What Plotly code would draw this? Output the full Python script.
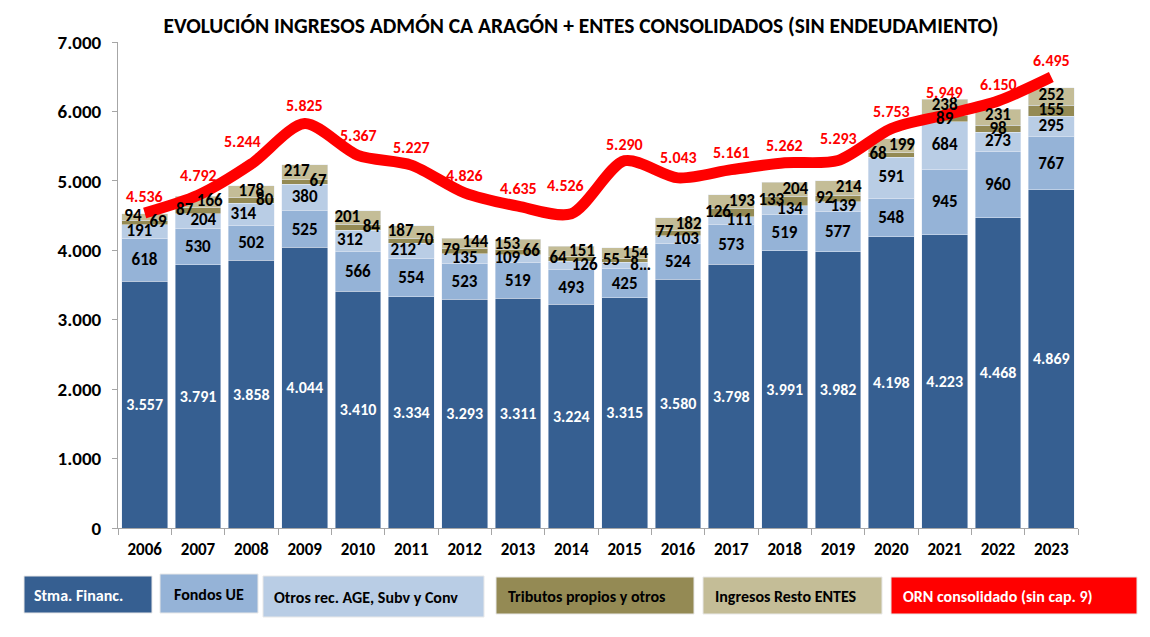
import plotly.graph_objects as go

# ---------------- data ----------------
years = [2006, 2007, 2008, 2009, 2010, 2011, 2012, 2013, 2014,
         2015, 2016, 2017, 2018, 2019, 2020, 2021, 2022, 2023]
stma_financ = [3557, 3791, 3858, 4044, 3410, 3334, 3293, 3311, 3224,
               3315, 3580, 3798, 3991, 3982, 4198, 4223, 4468, 4869]
fondos_ue = [618, 530, 502, 525, 566, 554, 523, 519, 493,
             425, 524, 573, 519, 577, 548, 945, 960, 767]
otros_age = [191, 204, 314, 380, 312, 212, 135, 109, 126,
             85, 103, 111, 134, 139, 591, 684, 273, 295]
otros_labels = ["191", "204", "314", "380", "312", "212", "135", "109", "126",
                "8…", "103", "111", "134", "139", "591", "684", "273", "295"]
tributos = [69, 87, 80, 67, 84, 70, 79, 66, 64,
            55, 77, 126, 133, 92, 68, 89, 98, 155]
resto_entes = [94, 166, 178, 217, 201, 187, 144, 153, 151,
               154, 182, 193, 204, 214, 199, 238, 231, 252]
orn = [4536, 4792, 5244, 5825, 5367, 5227, 4826, 4635, 4526,
       5290, 5043, 5161, 5262, 5293, 5753, 5949, 6150, 6495]

series_names = ["Stma. Financ.", "Fondos UE", "Otros rec. AGE, Subv y Conv",
                "Tributos propios y otros", "Ingresos Resto ENTES",
                "ORN consolidado (sin cap. 9)"]

# ---------------- style ----------------
C_STMA = "#365F91"
C_FOND = "#95B3D7"
C_OTR = "#B9CDE5"
C_TRIB = "#948A54"
C_RESTO = "#C4BD97"
C_RED = "#FF0000"
FONT = "Carlito, 'Liberation Sans Narrow', 'Liberation Sans', sans-serif"

# label placement tweaks (style only)
otros_dx = [-0.1, 0.1, -0.15, 0, -0.15, -0.15, 0, -0.2, 0.25,
            0.3, 0.15, 0.15, 0.1, 0.1, 0, 0, 0, 0]
trib_dx = [0.25, -0.25, 0.25, 0.25, 0.25, 0.25, -0.25, 0.25, -0.25,
           -0.25, -0.25, -0.25, -0.25, -0.25, -0.25, 0, 0, 0]
resto_dx = [-0.22, 0.22, 0, -0.15, -0.2, -0.2, 0.2, -0.2, 0.2,
            0.2, 0.2, 0.2, 0.2, 0.2, 0.2, 0, 0, 0]
resto_dy = [0, 0, 0, 0, 0, 0, 0, 0, 0,
            0, 0, 0, 0, 0, 0, 25, 20, 10]
trib_dy = [0, 0, 0, 0, 0, 0, 0, 0, 0,
           0, 0, 0, 0, 0, 0, -20, -15, 0]
orn_yshift = [17, 20, 22, 18, 20, 18, 17, 18, 28,
              16, 20, 17, 17, 22, 17, 22, 17, 17]
orn_xshift = [0, 0, -9, 0, 0, 0, 0, 0, -6,
              0, 0, 0, 0, 0, 0, 0, 0, 0]


def fmt(v):
    return f"{v:,}".replace(",", ".")


fig = go.Figure()

bar_w = 0.86
fig.add_trace(go.Bar(x=years, y=stma_financ, name=series_names[0], marker_color=C_STMA,
                     width=bar_w, text=[fmt(v) for v in stma_financ],
                     textposition="inside", insidetextanchor="middle", constraintext="none",
                     textangle=0, textfont=dict(color="white", size=16, family=FONT)))
fig.add_trace(go.Bar(x=years, y=fondos_ue, name=series_names[1], marker_color=C_FOND,
                     width=bar_w, text=[fmt(v) for v in fondos_ue],
                     textposition="inside", insidetextanchor="middle", constraintext="none",
                     textangle=0, textfont=dict(color="black", size=17, family=FONT)))
fig.add_trace(go.Bar(x=years, y=otros_age, name=series_names[2], marker_color=C_OTR,
                     width=bar_w))
fig.add_trace(go.Bar(x=years, y=tributos, name=series_names[3], marker_color=C_TRIB,
                     width=bar_w))
fig.add_trace(go.Bar(x=years, y=resto_entes, name=series_names[4], marker_color=C_RESTO,
                     width=bar_w))

fig.add_trace(go.Scatter(x=years, y=orn, name=series_names[5], mode="lines",
                         line=dict(color=C_RED, width=11, shape="spline", smoothing=0.8)))

# labels for thin segments
base_otros = [a + b for a, b in zip(stma_financ, fondos_ue)]
base_trib = [a + b for a, b in zip(base_otros, otros_age)]
base_resto = [a + b for a, b in zip(base_trib, tributos)]

lab_font = dict(color="black", size=17, family=FONT)
fig.add_trace(go.Scatter(x=[y + d for y, d in zip(years, otros_dx)],
                         y=[b + v / 2 for b, v in zip(base_otros, otros_age)],
                         mode="text", text=otros_labels, textfont=lab_font,
                         showlegend=False, hoverinfo="skip"))
fig.add_trace(go.Scatter(x=[y + d for y, d in zip(years, trib_dx)],
                         y=[b + v / 2 + d for b, v, d in zip(base_trib, tributos, trib_dy)],
                         mode="text", text=[str(v) for v in tributos], textfont=lab_font,
                         showlegend=False, hoverinfo="skip"))
fig.add_trace(go.Scatter(x=[y + d for y, d in zip(years, resto_dx)],
                         y=[b + v / 2 + d for b, v, d in zip(base_resto, resto_entes, resto_dy)],
                         mode="text", text=[str(v) for v in resto_entes], textfont=lab_font,
                         showlegend=False, hoverinfo="skip"))

annotations = []
for yr, v, ys, xs in zip(years, orn, orn_yshift, orn_xshift):
    annotations.append(dict(x=yr, y=v, xref="x", yref="y", text=f"<b>{fmt(v)}</b>",
                            showarrow=False, yshift=ys, xshift=xs,
                            font=dict(color=C_RED, size=16, family=FONT)))

# ---------------- page geometry (page has an 8px body margin) ----------------
OFF = 8
W, H = 1150 - OFF, 637 - OFF
PL, PR, PT, PB = 118, 1078, 42, 528   # plot area in page pixels
ML, MR, MT, MB = PL - OFF, (OFF + W) - PR, PT - OFF, (OFF + H) - PB
PW, PH = PR - PL, PB - PT


def px_x(p):
    return (p - PL) / PW


def px_y(p):
    return (PB - p) / PH


legend_boxes = [
    (24, 152, 576, 613, 8, C_STMA, "white"),
    (160, 258, 574, 613, 12, C_FOND, "black"),
    (263, 484, 576, 617, 9, C_OTR, "black"),
    (496, 694, 577, 614, 10, C_TRIB, "black"),
    (703, 882, 577, 614, 10, C_RESTO, "black"),
    (891, 1137, 577, 614, 10, C_RED, "white"),
]
shapes = []
for (x0, x1, y0, y1, pad, col, tcol), name in zip(legend_boxes, series_names):
    shapes.append(dict(type="rect", xref="paper", yref="paper",
                       x0=px_x(x0), x1=px_x(x1), y0=px_y(y1), y1=px_y(y0),
                       fillcolor=col, line=dict(color="#E8E8E8", width=1), layer="above"))
    annotations.append(dict(xref="paper", yref="paper", x=px_x(x0 + pad),
                            y=px_y((y0 + y1) / 2 + 1),
                            xanchor="left", yanchor="middle", showarrow=False,
                            text=f"<b>{name}</b>",
                            font=dict(color=tcol, size=16, family=FONT)))

# outer frame
shapes.append(dict(type="rect", xref="paper", yref="paper",
                   x0=px_x(5), x1=px_x(1145), y0=px_y(650), y1=px_y(3),
                   line=dict(color="#E3DED6", width=1.5), fillcolor="rgba(0,0,0,0)",
                   layer="below"))

fig.update_layout(
    width=W, height=H,
    margin=dict(l=ML, r=MR, t=MT, b=MB, pad=0),
    paper_bgcolor="white", plot_bgcolor="white",
    barmode="stack", bargap=0.14,
    showlegend=False,
    separators=",.",
    font=dict(family=FONT, color="black"),
    title=dict(text="<b>EVOLUCIÓN INGRESOS ADMÓN CA ARAGÓN + ENTES CONSOLIDADOS (SIN ENDEUDAMIENTO)</b>",
               x=px_x(581), xanchor="center", xref="paper", y=1 - (25 - OFF) / H,
               yanchor="middle", font=dict(size=21.5, family=FONT, color="black")),
    xaxis=dict(range=[2005.5, 2023.5], tickvals=years, ticktext=[f"<b>{y}</b>" for y in years],
               ticks="", showline=True, linecolor="#A6A6A6", linewidth=1,
               showgrid=False, zeroline=False, tickfont=dict(size=17, family=FONT),
               ticklabelstandoff=6,
               minor=dict(tickvals=[y - 0.5 for y in years] + [2023.5], ticks="outside",
                          ticklen=6, tickcolor="#A6A6A6", showgrid=False)),
    yaxis=dict(range=[0, 7000], dtick=1000, tickformat=",d", showline=True,
               linecolor="#A6A6A6", linewidth=1, ticks="outside", ticklen=5,
               tickcolor="#A6A6A6", showgrid=False, zeroline=False,
               tickfont=dict(size=19, family=FONT), ticklabelstandoff=7,
               tickprefix="<b>", ticksuffix="</b>"),
    annotations=annotations,
    shapes=shapes,
)

# bold bar / segment labels
for tr in fig.data:
    if tr.text is not None:
        tr.texttemplate = "<b>%{text}</b>"

fig.write_html("out.html")
